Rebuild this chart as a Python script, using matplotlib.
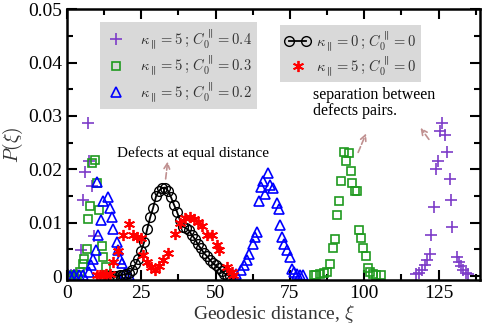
import matplotlib
matplotlib.use("Agg")
import matplotlib.pyplot as plt
from matplotlib.legend_handler import HandlerLine2D

plt.rcParams['font.family'] = ['Liberation Serif', 'DejaVu Serif']
plt.rcParams['mathtext.fontset'] = 'cm'

# kappa=5, C0=0.4 (purple plus)
x_c04 = [0.5, 1.5, 2.5, 3.5, 4.9, 5.3, 6.1, 7.2, 7.5, 8.5, 9.1,
         117.3, 118.4, 119.5, 120.6, 121.2, 122.1, 122.6, 123.4, 124.2, 124.9, 125.4,
         126.2, 127.1, 127.9, 128.7, 129.3, 129.6, 131.1, 131.9, 132.4, 133.3, 134.1, 134.9]
y_c04 = [0.0002, 0.0002, 0.0002, 0.0003, 0.0049, 0.0143, 0.0196, 0.0286, 0.0215, 0.0168, 0.0075,
         0.0004, 0.0006, 0.0011, 0.0021, 0.0030, 0.0041, 0.0078, 0.0130, 0.0201, 0.0216, 0.0271,
         0.0287, 0.0264, 0.0232, 0.0182, 0.0143, 0.0093, 0.0036, 0.0027, 0.0019, 0.0011, 0.0006, 0.0005]

# kappa=5, C0=0.3 (green squares)
x_c03 = [0.5, 1.5, 2.5, 3.5, 4.4, 5.3, 5.7, 6.6, 7.2, 7.7, 8.5, 9.4, 10.0, 10.9, 11.7, 12.2, 13.1,
         83.0, 83.9, 85.2, 86.4, 87.5, 88.6, 89.4, 90.1, 90.9, 91.6, 92.3, 93.1, 93.9, 94.8,
         95.4, 96.0, 96.8, 97.6, 98.3, 99.0, 99.7, 100.5, 101.3, 102.1, 103.0, 104.0, 105.5]
y_c03 = [0.0001, 0.0001, 0.0002, 0.0003, 0.0008, 0.0023, 0.0033, 0.0050, 0.0107, 0.0132, 0.0211,
         0.0218, 0.0175, 0.0124, 0.0056, 0.0036, 0.0017,
         0.0002, 0.0002, 0.0004, 0.0006, 0.0008, 0.0022, 0.0053, 0.0070, 0.0114, 0.0140, 0.0179,
         0.0232, 0.0216, 0.0231, 0.0197, 0.0174, 0.0160, 0.0159, 0.0086, 0.0072, 0.0052, 0.0038,
         0.0016, 0.0008, 0.0004, 0.0002, 0.0002]

# kappa=5, C0=0.2 (blue triangles)
x_c02 = [1.0, 2.5, 4.0, 5.5, 7.5, 8.2, 8.9, 9.8, 10.0, 10.5, 11.4, 12.2, 13.7, 14.5, 15.1, 15.6,
         16.7, 17.3, 17.9, 18.4, 19.5, 20.8,
         57.0, 58.5, 59.4, 60.5, 61.4, 62.6, 63.1, 63.9, 64.5, 65.4, 65.9, 66.7, 67.5, 68.4, 69.3,
         70.7, 71.2, 71.8, 72.3, 73.1, 74.0, 74.9, 75.7, 76.4, 77.5, 78.5, 79.5]
y_c02 = [0.0001, 0.0002, 0.0002, 0.0003, 0.0008, 0.0020, 0.0033, 0.0049, 0.0177, 0.0077, 0.0105,
         0.0140, 0.0148, 0.0128, 0.0111, 0.0088, 0.0064, 0.0049, 0.0033, 0.0024, 0.0006, 0.0002,
         0.0004, 0.0011, 0.0021, 0.0030, 0.0041, 0.0060, 0.0073, 0.0083, 0.0140, 0.0167, 0.0179,
         0.0154, 0.0194, 0.0171, 0.0165, 0.0137, 0.0125, 0.0096, 0.0073, 0.0061, 0.0049, 0.0036,
         0.0014, 0.0007, 0.0004, 0.0003, 0.0003]

# kappa=0, C0=0 (black circles + line)
x_k0 = [14, 15, 16, 17, 18, 19, 20, 21, 22, 23, 24, 25, 26, 27, 28, 29, 30, 31, 32, 33,
        34, 35, 36, 37, 38, 39, 40, 41, 42, 43, 44, 45, 46, 47, 48, 49, 50, 51, 52, 53, 54, 55]
y_k0 = [0.0, 0.0, 0.0001, 0.0001, 0.0002, 0.0003, 0.0004, 0.0006, 0.0012, 0.0022, 0.0033,
        0.0048, 0.0064, 0.0088, 0.0110, 0.0128, 0.0150, 0.0160, 0.0165, 0.0166, 0.0160,
        0.0148, 0.0134, 0.0121, 0.0105, 0.0093, 0.0090, 0.0086, 0.0077, 0.0070, 0.0060,
        0.0052, 0.0044, 0.0038, 0.0031, 0.0025, 0.0020, 0.0016, 0.0010, 0.0005, 0.0002, 0.0]

# kappa=5, C0=0 (red asterisks)
x_k5 = [10.0, 11.0, 12.0, 13.0, 14.5, 15.6, 17.3, 19.0, 20.9, 22.1, 23.7, 24.8, 25.7, 27.0,
        28.2, 29.6, 31.1, 32.4, 34.1, 36.4, 38.1, 39.8, 41.4, 42.9, 44.2, 45.6, 47.1, 48.7,
        50.4, 51.3, 53.8, 55.5, 56.0]
y_k5 = [0.0003, 0.0003, 0.0003, 0.0004, 0.0005, 0.0027, 0.0048, 0.0078, 0.0098, 0.0077,
        0.0074, 0.0071, 0.0039, 0.0027, 0.0017, 0.0011, 0.0019, 0.0031, 0.0043, 0.0079,
        0.0099, 0.0108, 0.0111, 0.0107, 0.0102, 0.0094, 0.0077, 0.0077, 0.0058, 0.0049,
        0.0017, 0.0008, 0.0003]

purple = '#7d3cc8'
green = '#1f9a1f'
arrow_col = '#c09090'

fig = plt.figure(figsize=(4.85, 3.27), dpi=100)
ax = fig.add_axes([0.138, 0.144, 0.852, 0.828])

l1, = ax.plot(x_c04, y_c04, ls='none', marker='+', ms=9, mew=1.2, color=purple,
              label=r'$\kappa_{\parallel}=5\,;\,C_0^{\parallel}=0.4$')
l2, = ax.plot(x_c03, y_c03, ls='none', marker='s', ms=6, mew=1.2, mfc='none', color=green,
              label=r'$\kappa_{\parallel}=5\,;\,C_0^{\parallel}=0.3$')
l3, = ax.plot(x_c02, y_c02, ls='none', marker='^', ms=6.5, mew=1.2, mfc='none', color='blue',
              label=r'$\kappa_{\parallel}=5\,;\,C_0^{\parallel}=0.2$')
l4, = ax.plot(x_k0, y_k0, '-', marker='o', ms=7, mew=1.0, mfc='none', color='black', lw=1.3,
              label=r'$\kappa_{\parallel}=0\,;\,C_0^{\parallel}=0$')
l5, = ax.plot(x_k5, y_k5, ls='none', marker=(6, 2, 0), ms=8, mew=1.3, color='red',
              label=r'$\kappa_{\parallel}=5\,;\,C_0^{\parallel}=0$')

ax.set_xlim(0, 139)
ax.set_ylim(-0.0007, 0.05)
ax.set_xticks([0, 25, 50, 75, 100, 125])
ax.set_xticks([12.5, 37.5, 62.5, 87.5, 112.5, 137.5], minor=True)
ax.set_yticks([0, 0.01, 0.02, 0.03, 0.04, 0.05])
ax.set_yticklabels(['0', '0.01', '0.02', '0.03', '0.04', '0.05'])
ax.set_yticks([0.005, 0.015, 0.025, 0.035, 0.045], minor=True)
ax.tick_params(which='both', direction='in', top=True, right=True, width=1.5, labelsize=14)
ax.tick_params(which='major', length=7)
ax.tick_params(which='minor', length=4)
for s in ax.spines.values():
    s.set_linewidth(1.8)

ax.set_xlabel(r'Geodesic distance, $\xi$', fontsize=14, color='#333333', labelpad=1)
ax.set_ylabel(r'$P(\xi)$', fontsize=14, color='#333333', labelpad=2)

leg1 = ax.legend(handles=[l1, l2, l3], loc='upper left', bbox_to_anchor=(0.063, 0.98),
                 numpoints=1, fontsize=10.5, frameon=True, facecolor='#d9d9d9',
                 edgecolor='none', framealpha=1, fancybox=False, handlelength=1.5,
                 labelspacing=0.2, borderpad=0.35, handletextpad=0.9)
for t in leg1.get_texts():
    t.set_color('#333333')
ax.add_artist(leg1)
leg2 = ax.legend(handles=[l4, l5], loc='upper left', bbox_to_anchor=(0.498, 0.97),
                 handler_map={l4: HandlerLine2D(numpoints=2), l5: HandlerLine2D(numpoints=1)},
                 fontsize=10.5, frameon=True, facecolor='#d9d9d9', edgecolor='none',
                 framealpha=1, fancybox=False, handlelength=1.8, labelspacing=0.1,
                 borderpad=0.3, handletextpad=0.4)
for t in leg2.get_texts():
    t.set_color('#333333')

ax.text(42.5, 0.0231, 'Defects at equal distance', fontsize=11, ha='center', va='center')
ax.annotate('', xy=(34.0, 0.0220), xytext=(33.1, 0.0177),
            arrowprops=dict(arrowstyle='->', color=arrow_col, ls='--', lw=1.2))
ax.text(82.9, 0.0325, 'separation between\ndefects pairs.', fontsize=11.5,
        ha='left', va='center', linespacing=1.0)
ax.annotate('', xy=(101.0, 0.0272), xytext=(97.6, 0.0227),
            arrowprops=dict(arrowstyle='->', color=arrow_col, ls='--', lw=1.2))
ax.annotate('', xy=(118.4, 0.0282), xytext=(122.3, 0.0252),
            arrowprops=dict(arrowstyle='->', color=arrow_col, ls='--', lw=1.2))

fig.savefig('out.png', dpi=100)
